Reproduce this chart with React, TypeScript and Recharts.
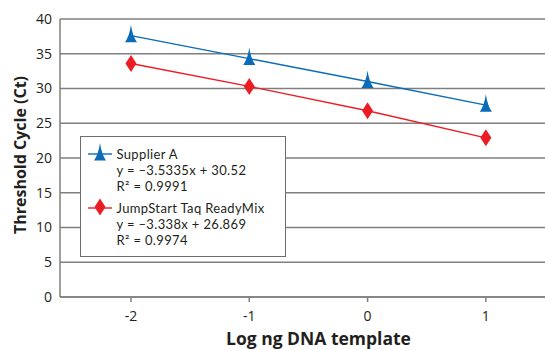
import React from 'react';
import { LineChart, Line, XAxis, YAxis, CartesianGrid, Legend } from 'recharts';

const logTemplate = [-2, -1, 0, 1];
const supplierA = [37.6, 34.3, 31.0, 27.6];
const jumpStart = [33.6, 30.3, 26.8, 22.9];
const yTicks = [0, 5, 10, 15, 20, 25, 30, 35, 40];
const xTicks = [-2, -1, 0, 1];
const seriesNames = ['Supplier A', 'JumpStart Taq ReadyMix'];
const equations = ['y = \u20133.5335x + 30.52', 'y = \u20133.338x + 26.869'];
const rSquared = ['0.9991', '0.9974'];

const BLUE = '#0a6cb8';
const RED = '#ec1c24';
const GRID = '#7f7f7f';
const TEXT = '#231f20';
const FONT = '"Open Sans", sans-serif';
const LEGEND_FONT = 'Lato, "Open Sans", sans-serif';

const data = logTemplate.map((x, i) => ({ x, a: supplierA[i], j: jumpStart[i] }));

const Triangle = (props: any) => {
  const { cx, cy } = props;
  if (cx == null || cy == null) return null;
  return (
    <path
      d={`M${cx},${cy - 11} Q${cx + 1.5},${cy} ${cx + 6},${cy + 6.5} L${cx - 6},${cy + 6.5} Q${cx - 1.5},${cy} ${cx},${cy - 11} Z`}
      fill={BLUE}
    />
  );
};

const Diamond = (props: any) => {
  const { cx, cy } = props;
  if (cx == null || cy == null) return null;
  return (
    <path
      d={`M${cx},${cy - 8.5} L${cx + 5.5},${cy} L${cx},${cy + 8.5} L${cx - 5.5},${cy} Z`}
      fill={RED}
    />
  );
};

const LegendIcon = ({ kind }: { kind: 'tri' | 'dia' }) => (
  <svg width={24} height={20} style={{ display: 'block', overflow: 'visible' }}>
    <line x1={0} x2={24} y1={12} y2={12} stroke={kind === 'tri' ? BLUE : RED} strokeWidth={1.4} />
    {kind === 'tri' ? <Triangle cx={12} cy={12} /> : <Diamond cx={12} cy={11} />}
  </svg>
);

const LegendBox = () => {
  const line: React.CSSProperties = { height: 16, lineHeight: '16px', whiteSpace: 'nowrap' };
  const group = (i: number, kind: 'tri' | 'dia', mt: number) => (
    <div style={{ marginTop: mt }}>
      <div style={{ ...line, display: 'flex', alignItems: 'center' }}>
        <div style={{ width: 29, height: 16, position: 'relative', flex: 'none' }}>
          <div style={{ position: 'absolute', left: 0, top: -4 }}>
            <LegendIcon kind={kind} />
          </div>
        </div>
        <span>{seriesNames[i]}</span>
      </div>
      <div style={{ ...line, paddingLeft: 29 }}>{equations[i]}</div>
      <div style={{ ...line, paddingLeft: 29 }}>R{'\u00B2'} = {rSquared[i]}</div>
    </div>
  );
  return (
    <div
      style={{
        boxSizing: 'border-box',
        width: 206,
        height: 121,
        border: '1.5px solid #6d6d6d',
        background: '#fff',
        paddingLeft: 6.5,
        paddingTop: 9,
        fontFamily: LEGEND_FONT,
        fontSize: 13,
        letterSpacing: 0.35,
        color: TEXT,
        textAlign: 'left',
      }}
    >
      {group(0, 'tri', 0)}
      {group(1, 'dia', 6)}
    </div>
  );
};

export default function App() {
  return (
    <div style={{ position: 'absolute', left: 0, top: 0, width: 545, height: 350, background: '#fff' }}>
      <LineChart width={545} height={350} data={data} margin={{ top: 19, right: 0, bottom: 0, left: 0 }}>
        <CartesianGrid vertical={false} stroke={GRID} strokeWidth={1.5} />
        <XAxis
          dataKey="x"
          type="number"
          domain={[-2.6, 1.5]}
          ticks={xTicks}
          allowDataOverflow
          height={53}
          stroke={GRID}
          strokeWidth={1.5}
          tickSize={5}
          tickMargin={9}
          tick={{ fill: TEXT, fontSize: 14, fontFamily: FONT }}
          label={{
            value: 'Log ng DNA template',
            position: 'insideBottom',
            offset: 5,
            dx: 16,
            style: { fill: TEXT, fontSize: 17.5, fontWeight: 700, fontFamily: FONT },
          }}
        />
        <YAxis
          domain={[0, 40]}
          ticks={yTicks}
          width={60}
          stroke={GRID}
          strokeWidth={1.5}
          tickLine={false}
          tickSize={0}
          tickMargin={8}
          tick={{ fill: TEXT, fontSize: 14, fontFamily: FONT }}
          label={{
            value: 'Threshold Cycle (Ct)',
            angle: -90,
            position: 'insideLeft',
            offset: 20,
            dy: -3,
            style: { fill: TEXT, fontSize: 16, fontWeight: 700, fontFamily: FONT, textAnchor: 'middle' },
          }}
        />
        <Legend
          layout="vertical"
          align="center"
          verticalAlign="middle"
          content={() => <LegendBox />}
          wrapperStyle={{ left: 80, top: 136, width: 206, height: 121 }}
        />
        <Line
          dataKey="a"
          name={seriesNames[0]}
          stroke={BLUE}
          strokeWidth={1.4}
          dot={<Triangle />}
          activeDot={false}
          isAnimationActive={false}
        />
        <Line
          dataKey="j"
          name={seriesNames[1]}
          stroke={RED}
          strokeWidth={1.4}
          dot={<Diamond />}
          activeDot={false}
          isAnimationActive={false}
        />
      </LineChart>
    </div>
  );
}
